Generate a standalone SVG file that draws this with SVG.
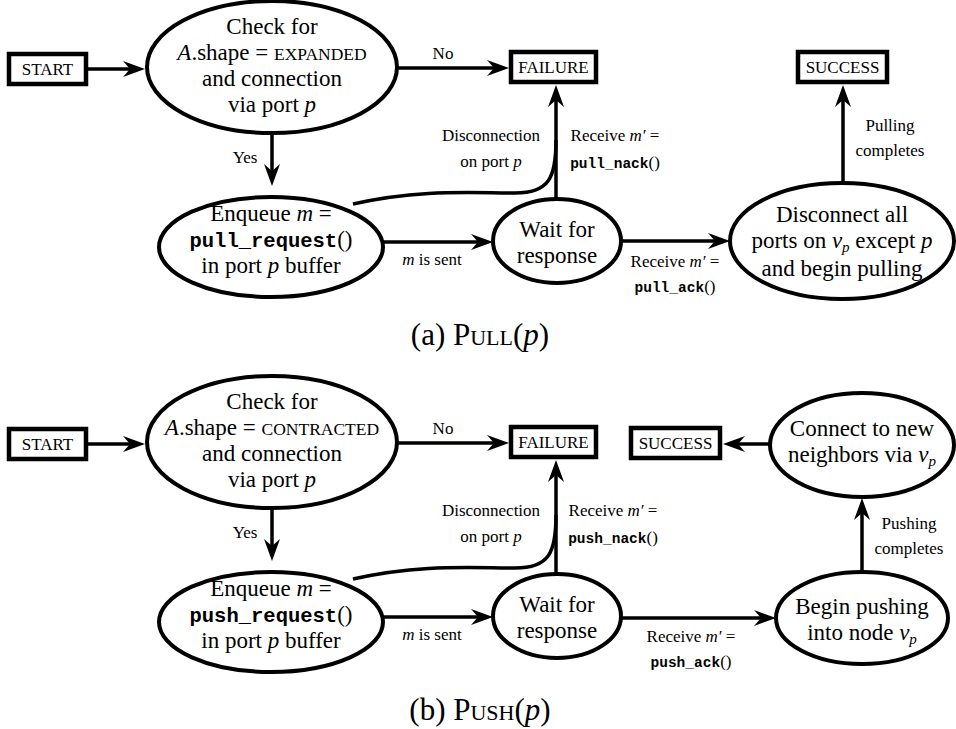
<svg xmlns="http://www.w3.org/2000/svg" width="956" height="729" viewBox="0 0 956 729">
<style>
.box{fill:#fff;stroke:#000;stroke-width:4.5}
.node{fill:#fff;stroke:#000;stroke-width:4}
.edge{fill:none;stroke:#000;stroke-width:3.5}
text{font-family:"Liberation Serif","Times New Roman",serif;fill:#000;text-anchor:middle}
.n{font-size:23px}
.b{font-size:17px}
.l{font-size:17px}
.cap{font-size:31px}
.i{font-style:italic}
.sc{font-size:17.5px}
.mono{font-family:"Liberation Mono","Courier New",monospace;font-weight:bold}
.mn{font-size:20.5px}
.ms{font-size:14.5px}
.sub{font-size:15px;font-style:italic}
</style>
<defs>
<marker id="ah" markerUnits="userSpaceOnUse" viewBox="0 0 22 16" markerWidth="22" markerHeight="16" refX="7" refY="8" orient="auto">
<path d="M0,0 L22,8 L0,16 L7,8 Z" fill="#000"/>
</marker>
</defs>

<!-- ===== Panel (a) ===== -->
<g id="edges-a">
<path class="edge" d="M88,69 H130" marker-end="url(#ah)"/>
<path class="edge" d="M397,68 H494" marker-end="url(#ah)"/>
<path class="edge" d="M272,133 V171" marker-end="url(#ah)"/>
<path class="edge" d="M383,242 H478" marker-end="url(#ah)"/>
<path class="edge" d="M556,199 V100" marker-end="url(#ah)"/>
<path class="edge" d="M353,204 C420,189 470,193 515,193 C549,193 556,178 556,140"/>
<path class="edge" d="M621,241 H715" marker-end="url(#ah)"/>
<path class="edge" d="M843,183 V100" marker-end="url(#ah)"/>
<text class="l" x="443" y="59">No</text>
<text class="l" x="245" y="163">Yes</text>
<text class="l" x="491" y="141">Disconnection</text>
<text class="l" x="491" y="167">on port <tspan class="i">p</tspan></text>
<text class="l" x="615" y="141">Receive <tspan class="i">m′</tspan> =</text>
<text class="l" x="615" y="168"><tspan class="mono ms">pull_nack</tspan>()</text>
<text class="l" x="432" y="265"><tspan class="i">m</tspan> is sent</text>
<text class="l" x="675" y="267">Receive <tspan class="i">m′</tspan> =</text>
<text class="l" x="675" y="292"><tspan class="mono ms">pull_ack</tspan>()</text>
<text class="l" x="890" y="131">Pulling</text>
<text class="l" x="890" y="156">completes</text>
</g>

<g id="start-a">
<rect class="box" x="9" y="54" width="77" height="30"/>
<text class="b" x="47.5" y="75">START</text>
</g>
<g id="check-a">
<ellipse class="node" cx="272" cy="67" rx="125" ry="66"/>
<text class="n" x="272" y="34">Check for</text>
<text class="n" x="272" y="60"><tspan class="i">A</tspan>.shape = <tspan class="sc">EXPANDED</tspan></text>
<text class="n" x="272" y="86">and connection</text>
<text class="n" x="272" y="112">via port <tspan class="i">p</tspan></text>
</g>
<g id="failure-a">
<rect class="box" x="511" y="52" width="85" height="30"/>
<text class="b" x="553.5" y="73">FAILURE</text>
</g>
<g id="success-a">
<rect class="box" x="798" y="52" width="89" height="30"/>
<text class="b" x="842.5" y="73">SUCCESS</text>
</g>
<g id="enqueue-a">
<ellipse class="node" cx="271" cy="247" rx="112" ry="50"/>
<text class="n" x="271" y="221">Enqueue <tspan class="i">m</tspan> =</text>
<text class="n" x="271" y="247"><tspan class="mono mn">pull_request</tspan>()</text>
<text class="n" x="271" y="273">in port <tspan class="i">p</tspan> buffer</text>
</g>
<g id="wait-a">
<ellipse class="node" cx="557" cy="241" rx="64" ry="42"/>
<text class="n" x="557" y="237">Wait for</text>
<text class="n" x="557" y="263">response</text>
</g>
<g id="disconnect-a">
<ellipse class="node" cx="842" cy="241" rx="112" ry="58"/>
<text class="n" x="842" y="222">Disconnect all</text>
<text class="n" x="842" y="248">ports on <tspan class="i">v</tspan><tspan class="sub" dy="4">p</tspan><tspan dy="-4"> except </tspan><tspan class="i">p</tspan></text>
<text class="n" x="842" y="276">and begin pulling</text>
</g>
<text class="cap" x="480" y="345">(a) <tspan font-variant="small-caps">Pull</tspan>(<tspan class="i">p</tspan>)</text>

<!-- ===== Panel (b) ===== -->
<g id="edges-b">
<path class="edge" d="M88,444 H130" marker-end="url(#ah)"/>
<path class="edge" d="M397,443 H494" marker-end="url(#ah)"/>
<path class="edge" d="M272,508 V546" marker-end="url(#ah)"/>
<path class="edge" d="M383,617 H478" marker-end="url(#ah)"/>
<path class="edge" d="M556,574 V475" marker-end="url(#ah)"/>
<path class="edge" d="M353,579 C420,564 470,568 515,568 C549,568 556,553 556,515"/>
<path class="edge" d="M621,618 H761" marker-end="url(#ah)"/>
<path class="edge" d="M862,572 V513" marker-end="url(#ah)"/>
<path class="edge" d="M769,444 H738" marker-end="url(#ah)"/>
<text class="l" x="443" y="434">No</text>
<text class="l" x="245" y="538">Yes</text>
<text class="l" x="491" y="516">Disconnection</text>
<text class="l" x="491" y="542">on port <tspan class="i">p</tspan></text>
<text class="l" x="613" y="516">Receive <tspan class="i">m′</tspan> =</text>
<text class="l" x="613" y="543"><tspan class="mono ms">push_nack</tspan>()</text>
<text class="l" x="432" y="640"><tspan class="i">m</tspan> is sent</text>
<text class="l" x="691" y="642">Receive <tspan class="i">m′</tspan> =</text>
<text class="l" x="691" y="667"><tspan class="mono ms">push_ack</tspan>()</text>
<text class="l" x="909" y="529">Pushing</text>
<text class="l" x="909" y="554">completes</text>
</g>

<g id="start-b">
<rect class="box" x="9" y="429" width="77" height="30"/>
<text class="b" x="47.5" y="450">START</text>
</g>
<g id="check-b">
<ellipse class="node" cx="272" cy="442" rx="125" ry="66"/>
<text class="n" x="272" y="409">Check for</text>
<text class="n" x="272" y="435"><tspan class="i">A</tspan>.shape = <tspan class="sc">CONTRACTED</tspan></text>
<text class="n" x="272" y="461">and connection</text>
<text class="n" x="272" y="487">via port <tspan class="i">p</tspan></text>
</g>
<g id="failure-b">
<rect class="box" x="511" y="427" width="85" height="30"/>
<text class="b" x="553.5" y="448">FAILURE</text>
</g>
<g id="success-b">
<rect class="box" x="631" y="428" width="89" height="30"/>
<text class="b" x="675.5" y="449">SUCCESS</text>
</g>
<g id="connect-b">
<ellipse class="node" cx="862" cy="445" rx="92" ry="52"/>
<text class="n" x="862" y="436">Connect to new</text>
<text class="n" x="862" y="462">neighbors via <tspan class="i">v</tspan><tspan class="sub" dy="4">p</tspan></text>
</g>
<g id="enqueue-b">
<ellipse class="node" cx="271" cy="622" rx="112" ry="50"/>
<text class="n" x="271" y="596">Enqueue <tspan class="i">m</tspan> =</text>
<text class="n" x="271" y="622"><tspan class="mono mn">push_request</tspan>()</text>
<text class="n" x="271" y="648">in port <tspan class="i">p</tspan> buffer</text>
</g>
<g id="wait-b">
<ellipse class="node" cx="557" cy="616" rx="64" ry="42"/>
<text class="n" x="557" y="612">Wait for</text>
<text class="n" x="557" y="638">response</text>
</g>
<g id="begin-b">
<ellipse class="node" cx="862" cy="618" rx="86" ry="46"/>
<text class="n" x="862" y="614">Begin pushing</text>
<text class="n" x="862" y="640">into node <tspan class="i">v</tspan><tspan class="sub" dy="4">p</tspan></text>
</g>
<text class="cap" x="480" y="720">(b) <tspan font-variant="small-caps">Push</tspan>(<tspan class="i">p</tspan>)</text>
</svg>
